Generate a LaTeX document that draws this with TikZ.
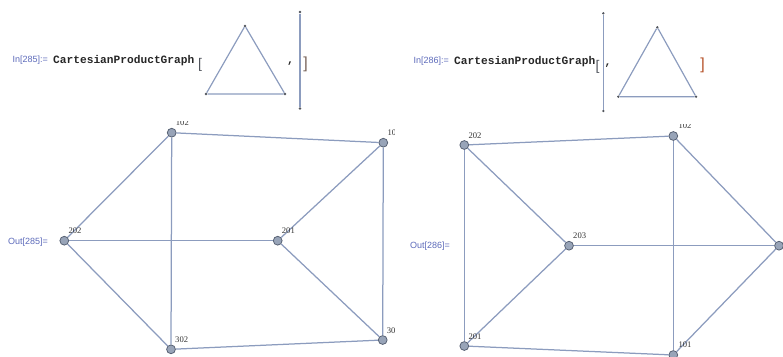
\documentclass[tikz,border=0pt]{standalone}
\usepackage{fontspec}
\setmainfont{Liberation Serif}
\newfontfamily\uisans{Liberation Sans}
\newfontfamily\codefont{Liberation Mono}
\definecolor{edgecol}{RGB}{140,156,190}
\definecolor{vfill}{RGB}{152,164,184}
\definecolor{vdraw}{RGB}{88,98,116}
\definecolor{promptcol}{RGB}{92,106,186}
\definecolor{brackl}{RGB}{120,100,90}
\definecolor{brackr}{RGB}{182,84,44}
\definecolor{dotcol}{RGB}{80,84,92}
\tikzset{
  vtx/.style={circle,draw=vdraw,fill=vfill,line width=0.8pt,minimum size=8.8pt,inner sep=0pt},
  dot/.style={circle,fill=dotcol,minimum size=2.6pt,inner sep=0pt},
  edge/.style={draw=edgecol,line width=1.25pt},
  sedge/.style={draw=edgecol,line width=1.2pt},
  lbl/.style={font=\fontsize{8.6}{8.6}\selectfont,text=black!80,inner sep=0pt,anchor=base west},
  prompt/.style={font=\uisans\fontsize{9}{9}\selectfont,text=promptcol,inner sep=0pt,anchor=base west},
  code/.style={font=\codefont\bfseries\fontsize{11.2}{11.2}\selectfont,text=black!85,inner sep=0pt,anchor=base west},
  brk/.style={inner sep=0pt,anchor=base}
}
\begin{document}
\begin{tikzpicture}[x=1pt,y=-1pt]
\useasboundingbox (0,0) rectangle (783,356);

% ---- input line 285: triangle  x  path
\node[prompt] (in1) at (12.5,62) {In[285]:=};
\node[code] (cpg1) at (53,63.5) {CartesianProductGraph};
\node[brk,text=dotcol,font=\uisans\fontsize{14}{14}\selectfont] (ob1) at (200,68) {[};
\node[dot] (t1a) at (245,26) {};
\node[dot] (t1b) at (206,94) {};
\node[dot] (t1c) at (285,94) {};
\draw[sedge] (t1a) -- (t1b) -- (t1c) -- (t1a);
\node[code] (cm1) at (287,63.5) {,};
\node[dot] (p1a) at (300,12) {};
\node[dot] (p1b) at (300,108.5) {};
\draw[sedge] (p1a) -- (p1b);
\node[brk,text=brackl,font=\uisans\fontsize{16}{16}\selectfont] (cb1) at (305.5,68) {]};

% ---- input line 286: path  x  triangle
\node[prompt] (in2) at (413.3,63) {In[286]:=};
\node[code] (cpg2) at (454,64.5) {CartesianProductGraph};
\node[brk,text=dotcol,font=\uisans\fontsize{14}{14}\selectfont] (ob2) at (597.5,70) {[};
\node[dot] (p2a) at (603.3,13.3) {};
\node[dot] (p2b) at (603.3,111) {};
\draw[sedge] (p2a) -- (p2b);
\node[code] (cm2) at (604.5,65) {,};
\node[dot] (t2a) at (657.3,27.3) {};
\node[dot] (t2b) at (618.3,96.7) {};
\node[dot] (t2c) at (696,96.7) {};
\draw[sedge] (t2a) -- (t2b) -- (t2c) -- (t2a);
\node[brk,text=brackr,font=\uisans\fontsize{16}{16}\selectfont] (cb2) at (702.5,69) {]};

% ---- output 285
\node[prompt] (out1) at (8,244) {Out[285]=};
\begin{scope}
\clip (55,121.5) rectangle (394,356);
\node[vtx] (a102) at (171.7,132.7) {};
\node[vtx] (a101) at (383.3,142.7) {};
\node[vtx] (a202) at (64.3,240.7) {};
\node[vtx] (a201) at (277.7,240.7) {};
\node[vtx] (a302) at (171,349.3) {};
\node[vtx] (a301) at (382.7,340) {};
\draw[edge] (a102) -- (a101);
\draw[edge] (a102) -- (a202);
\draw[edge] (a102) -- (a302);
\draw[edge] (a101) -- (a201);
\draw[edge] (a101) -- (a301);
\draw[edge] (a202) -- (a201);
\draw[edge] (a202) -- (a302);
\draw[edge] (a201) -- (a301);
\draw[edge] (a302) -- (a301);
\node[lbl] (la102) at ([xshift=4pt,yshift=6.8pt]a102.center) {102};
\node[lbl] (la101) at ([xshift=4pt,yshift=6.8pt]a101.center) {101};
\node[lbl] (la202) at ([xshift=4pt,yshift=6.8pt]a202.center) {202};
\node[lbl] (la201) at ([xshift=4pt,yshift=6.8pt]a201.center) {201};
\node[lbl] (la302) at ([xshift=4pt,yshift=6.8pt]a302.center) {302};
\node[lbl] (la301) at ([xshift=4pt,yshift=6.8pt]a301.center) {301};
\end{scope}

% ---- output 286
\node[prompt] (out2) at (410,248.5) {Out[286]=};
\begin{scope}
\clip (455,124.5) rectangle (783,356);
\node[vtx] (b202) at (464.3,145) {};
\node[vtx] (b102) at (673.3,136) {};
\node[vtx] (b203) at (569,245.7) {};
\node[vtx] (b103) at (779,245.7) {};
\node[vtx] (b201) at (464.3,346) {};
\node[vtx] (b101) at (673.3,355) {};
\draw[edge] (b202) -- (b102);
\draw[edge] (b202) -- (b203);
\draw[edge] (b202) -- (b201);
\draw[edge] (b102) -- (b101);
\draw[edge] (b102) -- (b103);
\draw[edge] (b203) -- (b103);
\draw[edge] (b203) -- (b201);
\draw[edge] (b201) -- (b101);
\draw[edge] (b103) -- (b101);
\node[lbl] (lb202) at ([xshift=4pt,yshift=6.8pt]b202.center) {202};
\node[lbl] (lb102) at ([xshift=5pt,yshift=7.5pt]b102.center) {102};
\node[lbl] (lb203) at ([xshift=4pt,yshift=6.8pt]b203.center) {203};
\node[lbl] (lb201) at ([xshift=4pt,yshift=6.8pt]b201.center) {201};
\node[lbl] (lb101) at ([xshift=5pt,yshift=7.5pt]b101.center) {101};
\end{scope}
\end{tikzpicture}
\end{document}
